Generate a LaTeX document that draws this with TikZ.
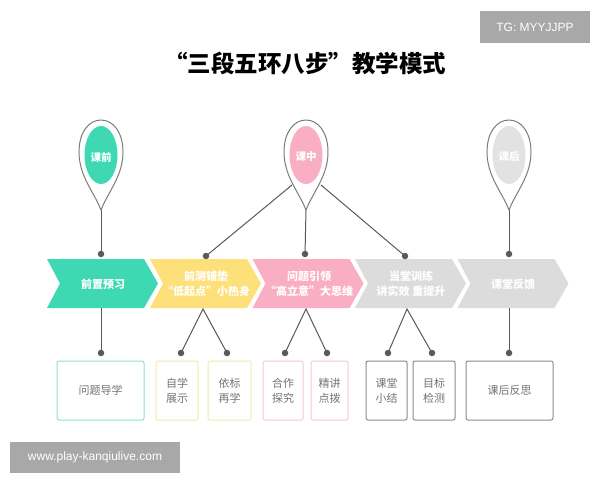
\documentclass[tikz,border=0pt]{standalone}
\usepackage{fontspec}
\setmainfont{Noto Sans CJK SC}
\newfontfamily\latinsf{Liberation Sans}
\definecolor{cteal}{HTML}{3ED9B3}
\definecolor{cyellow}{HTML}{FDE07A}
\definecolor{cpink}{HTML}{F9AEC3}
\definecolor{cgray}{HTML}{DCDCDC}
\definecolor{cpingray}{HTML}{E2E2E2}
\definecolor{cline}{HTML}{5A5A5A}
\definecolor{ctealb}{HTML}{8BE3CC}
\definecolor{cyelb}{HTML}{F3EBA8}
\definecolor{cpinkb}{HTML}{F2CCD6}
\definecolor{cgrayb}{HTML}{8C8C8C}
\definecolor{cwm}{HTML}{A8A8A8}
\newcommand\chevshape[2]{\fill[#2] (#1,259) -- (#1+97,259) -- (#1+111,283.5) -- (#1+97,308) -- (#1,308) -- (#1+13,283.5) -- cycle;}
\newcommand\pinshape[2]{%
  \draw[cline!80, line width=1pt, fill=white] (#1,210) .. controls (#1-7,192) and (#1-22,176) .. (#1-22,152)
    .. controls (#1-22,132) and (#1-12,120) .. (#1,120)
    .. controls (#1+12,120) and (#1+22,132) .. (#1+22,152)
    .. controls (#1+22,176) and (#1+7,192) .. (#1,210);
  \fill[#2] (#1,155) ellipse [x radius=16.5pt, y radius=29pt];}
\begin{document}
\begin{tikzpicture}[x=1pt,y=-1pt,
  conn/.style={cline, line width=1pt},
  dotc/.style={circle, fill=cline, inner sep=0pt, minimum size=6.5pt},
  chevtext/.style={text=white, font=\bfseries\fontsize{11}{15}\selectfont, align=center},
  pintext/.style={text=white, font=\bfseries\fontsize{10.5}{13}\selectfont},
  boxa/.style={draw, rounded corners=2pt, line width=1pt, text=gray!90!black, font=\fontsize{11}{15}\selectfont, align=center, inner sep=0pt},
  wm/.style={fill=cwm, text=white, font=\latinsf\fontsize{12}{14}\selectfont, inner sep=0pt}]
\useasboundingbox (0,0) rectangle (600,480);
\fill[white] (0,0) rectangle (600,480);
% watermarks
\node[wm, minimum width=110pt, minimum height=32pt] (tg) at (535,27) {TG: MYYJJPP};
\node[wm, minimum width=170pt, minimum height=31pt] (www) at (95,457) {www.play-kanqiulive.com};
% title
\node[font=\bfseries\fontsize{23.5}{28}\selectfont] (title) at (305,63) {“三段五环八步”教学模式};
% pins
\pinshape{101}{cteal}
\pinshape{306}{cpink}
\pinshape{509}{cpingray}
\node[pintext] (p1) at (101,157) {课前};
\node[pintext] (p2) at (306,157) {课中};
\node[pintext] (p3) at (509,157) {课后};
\coordinate (t1) at (101,210);
\coordinate (t2) at (306,210);
\coordinate (t3) at (509,210);
\coordinate (p2l) at (292,185);
\coordinate (p2r) at (321,185);
% chevrons
\chevshape{47}{cteal}
\chevshape{150}{cyellow}
\chevshape{252.5}{cpink}
\chevshape{355}{cgray}
\chevshape{457.5}{cgray}
\node[chevtext] (s1) at (103,284) {前置预习};
\node[chevtext] (s2) at (206,284) {前测铺垫\\“低起点”小热身};
\node[chevtext] (s3) at (309,284) {问题引领\\“高立意”大思维};
\node[chevtext] (s4) at (411,284) {当堂训练\\讲实效 重提升};
\node[chevtext] (s5) at (513,284) {课堂反馈};
% top dots
\node[dotc] (d1) at (101,254) {};
\node[dotc] (d2) at (206,256) {};
\node[dotc] (d3) at (305,254) {};
\node[dotc] (d4) at (405,256) {};
\node[dotc] (d5) at (509,254) {};
\draw[conn] (t1) -- (d1.center);
\draw[conn] (t2) -- (d3.center);
\draw[conn] (t3) -- (d5.center);
\draw[conn] (p2l) -- (d2.center);
\draw[conn] (p2r) -- (d4.center);
% bottom apexes
\coordinate (a1) at (101,308);
\coordinate (a2) at (203,309);
\coordinate (a3) at (306,309);
\coordinate (a4) at (407,309);
\coordinate (a5) at (509,308);
% boxes
\node[boxa, draw=ctealb, minimum width=87pt, minimum height=59pt] (b1) at (100.5,390.5) {问题导学};
\node[boxa, draw=cyelb, minimum width=42pt, minimum height=59pt] (b2) at (177,390.5) {自学\\展示};
\node[boxa, draw=cyelb, minimum width=43pt, minimum height=59pt] (b3) at (229.5,390.5) {依标\\再学};
\node[boxa, draw=cpinkb, minimum width=40pt, minimum height=59pt] (b4) at (283,390.5) {合作\\探究};
\node[boxa, draw=cpinkb, minimum width=37pt, minimum height=59pt] (b5) at (329.5,390.5) {精讲\\点拨};
\node[boxa, draw=cgrayb, minimum width=41pt, minimum height=59pt] (b6) at (386.5,390.5) {课堂\\小结};
\node[boxa, draw=cgrayb, minimum width=42pt, minimum height=59pt] (b7) at (434,390.5) {目标\\检测};
\node[boxa, draw=cgrayb, minimum width=87pt, minimum height=59pt] (b8) at (509.5,390.5) {课后反思};
% bottom dots
\node[dotc] (e1) at (101,353) {};
\node[dotc] (e2) at (181,353) {};
\node[dotc] (e3) at (227,353) {};
\node[dotc] (e4) at (285,353) {};
\node[dotc] (e5) at (327,353) {};
\node[dotc] (e6) at (388,353) {};
\node[dotc] (e7) at (432,353) {};
\node[dotc] (e8) at (509,353) {};
\draw[conn] (a1) -- (e1.center);
\draw[conn] (e2.center) -- (a2) -- (e3.center);
\draw[conn] (e4.center) -- (a3) -- (e5.center);
\draw[conn] (e6.center) -- (a4) -- (e7.center);
\draw[conn] (a5) -- (e8.center);
\end{tikzpicture}
\end{document}
